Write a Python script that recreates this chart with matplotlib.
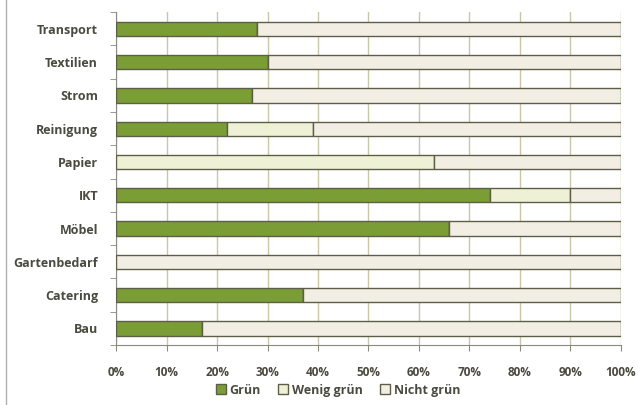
import numpy as np
import matplotlib.pyplot as plt
from matplotlib.lines import Line2D

categories = ['Transport', 'Textilien', 'Strom', 'Reinigung', 'Papier',
              'IKT', 'Möbel', 'Gartenbedarf', 'Catering', 'Bau']
gruen = [28, 30, 27, 22, 0, 74, 66, 0, 37, 17]
wenig_gruen = [0, 0, 0, 17, 63, 16, 0, 0, 0, 0]
nicht_gruen = [72, 70, 73, 61, 37, 10, 34, 100, 63, 83]
series_names = ['Grün', 'Wenig grün', 'Nicht grün']
x_ticks = [0, 10, 20, 30, 40, 50, 60, 70, 80, 90, 100]

plt.rcParams['font.family'] = ['Open Sans', 'DejaVu Sans']

fig = plt.figure(figsize=(6.38, 4.05), dpi=100)
ax = fig.add_axes([0.182, 0.148, 0.791, 0.822])

y = np.arange(len(categories))[::-1]
h = 0.43
colors = ['#7a9e35', '#eff1d6', '#f3eee3']
edge = '#5e5e48'

left = np.zeros(len(categories))
for vals, col, name in zip([gruen, wenig_gruen, nicht_gruen], colors, series_names):
    vals = np.array(vals, dtype=float)
    ax.barh(y, vals, left=left, height=h, color=col, edgecolor=edge,
            linewidth=1.0, label=name, zorder=3)
    left += vals

ax.set_xlim(0, 100)
ax.set_ylim(-0.5, len(categories) - 0.5)
ax.set_xticks(x_ticks)
ax.set_xticklabels([f'{t}%' for t in x_ticks])
ax.set_yticks(y)
ax.set_yticklabels(categories)
ax.set_yticks(np.arange(len(categories) + 1) - 0.5, minor=True)

ax.grid(axis='x', color='#c9c7a8', linewidth=1.0, zorder=0)
for s in ['top', 'right']:
    ax.spines[s].set_visible(False)
for s in ['left', 'bottom']:
    ax.spines[s].set_color('#8a8a80')
ax.tick_params(axis='y', which='major', length=0, pad=13)
ax.tick_params(axis='y', which='minor', length=4, color='#8a8a80')
ax.tick_params(axis='x', length=4, color='#8a8a80', pad=11)
for lbl in ax.get_xticklabels() + ax.get_yticklabels():
    lbl.set_fontsize(8.5)
    lbl.set_fontweight('bold')
    lbl.set_color('#4a4a40')
for lbl in ax.get_yticklabels():
    lbl.set_fontsize(9)

handles = [plt.Rectangle((0, 0), 1, 1, facecolor=c, edgecolor=edge) for c in colors]
fig.legend(handles, series_names, loc='center', bbox_to_anchor=(0.53, 0.037),
           ncol=3, frameon=False, handlelength=0.8, handleheight=0.8,
           handletextpad=0.3, columnspacing=1.4, labelcolor='#4a4a40',
           prop={'weight': 'bold', 'size': 9})

fig.add_artist(Line2D([0.01, 0.01], [0, 1], color='#b0b0b0', linewidth=1.0))

fig.savefig('out.png', dpi=100)
